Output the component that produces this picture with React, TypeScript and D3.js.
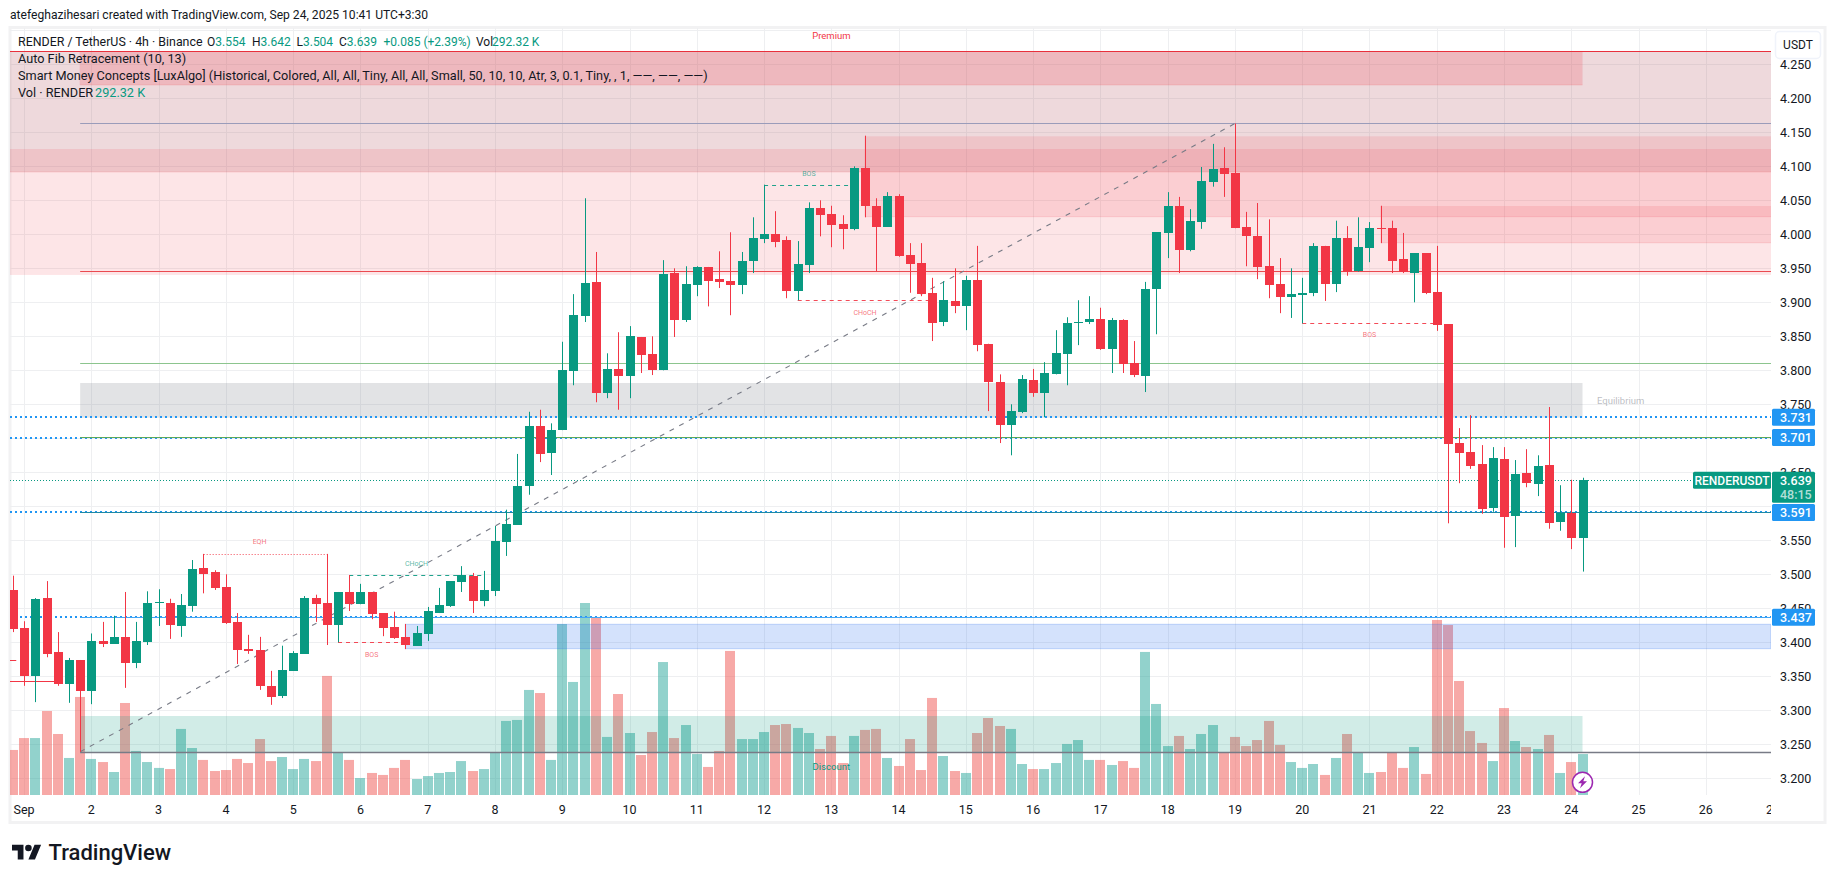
import React from 'react';
import * as d3 from 'd3';

// 4h candles, first entry is the bar cut off by the left edge of the pane
const opens = [3.477,3.421,3.350,3.465,3.386,3.339,3.374,3.328,3.402,3.398,3.408,3.370,3.400,3.458,3.458,3.424,3.453,3.509,3.503,3.481,3.430,3.390,3.389,3.336,3.321,3.358,3.383,3.465,3.458,3.425,3.474,3.456,3.474,3.443,3.422,3.408,3.395,3.412,3.443,3.453,3.489,3.498,3.461,3.475,3.548,3.573,3.630,3.718,3.678,3.712,3.799,3.880,3.930,3.767,3.802,3.792,3.849,3.824,3.800,3.943,3.874,3.925,3.952,3.934,3.931,3.925,3.961,3.993,4.000,3.992,3.917,3.955,4.039,4.030,4.015,4.008,4.097,4.042,4.011,4.056,3.969,3.958,3.914,3.871,3.902,3.894,3.933,3.839,3.783,3.720,3.739,3.786,3.767,3.794,3.824,3.870,3.871,3.875,3.831,3.874,3.811,3.792,3.920,4.002,4.042,3.977,4.018,4.077,4.097,4.090,4.011,3.997,3.953,3.927,3.908,3.911,3.914,3.983,3.927,3.995,3.946,3.980,4.009,4.009,3.964,3.943,3.972,3.915,3.868,3.693,3.680,3.662,3.597,3.670,3.586,3.649,3.633,3.661,3.577,3.590,3.553];
const highs = [3.498,3.431,3.465,3.490,3.415,3.377,3.374,3.413,3.430,3.439,3.474,3.430,3.475,3.478,3.464,3.471,3.521,3.530,3.506,3.500,3.443,3.411,3.408,3.358,3.395,3.387,3.468,3.470,3.530,3.474,3.499,3.486,3.474,3.443,3.445,3.427,3.424,3.452,3.480,3.490,3.512,3.502,3.505,3.571,3.595,3.677,3.739,3.742,3.722,3.842,3.912,4.053,3.974,3.825,3.856,3.865,3.849,3.850,3.962,3.950,3.953,3.953,3.952,3.975,4.003,3.974,4.025,4.073,4.034,3.997,3.990,4.047,4.050,4.042,4.028,4.100,4.145,4.053,4.062,4.059,3.987,3.987,3.936,3.931,3.950,3.939,3.983,3.839,3.794,3.750,3.793,3.802,3.812,3.859,3.878,3.903,3.909,3.892,3.877,3.875,3.843,3.930,4.003,4.062,4.055,4.037,4.099,4.133,4.128,4.163,4.033,4.046,4.022,3.965,3.950,3.936,3.987,3.983,4.020,4.012,4.025,4.018,4.042,4.020,4.002,3.972,3.972,3.983,3.868,3.715,3.734,3.690,3.687,3.687,3.668,3.684,3.675,3.746,3.631,3.639,3.642];
const lows = [3.415,3.336,3.312,3.378,3.336,3.311,3.239,3.309,3.393,3.398,3.333,3.362,3.396,3.424,3.405,3.408,3.445,3.472,3.477,3.427,3.368,3.383,3.330,3.308,3.318,3.358,3.383,3.430,3.396,3.400,3.446,3.456,3.434,3.409,3.405,3.390,3.395,3.402,3.443,3.452,3.474,3.443,3.453,3.468,3.527,3.573,3.617,3.665,3.646,3.712,3.778,3.871,3.753,3.759,3.742,3.759,3.796,3.793,3.800,3.849,3.871,3.909,3.894,3.921,3.881,3.912,3.943,3.987,3.981,3.906,3.903,3.943,3.997,3.981,3.978,4.006,4.025,3.946,4.011,3.967,3.914,3.909,3.843,3.865,3.884,3.859,3.828,3.740,3.693,3.675,3.737,3.761,3.731,3.794,3.778,3.837,3.868,3.830,3.796,3.796,3.790,3.768,3.853,3.965,3.943,3.975,4.008,4.070,4.055,4.009,3.953,3.934,3.906,3.884,3.877,3.869,3.909,3.902,3.915,3.939,3.945,3.959,3.987,3.943,3.943,3.900,3.912,3.858,3.575,3.634,3.655,3.589,3.592,3.539,3.540,3.628,3.615,3.567,3.564,3.537,3.504];
const closes = [3.420,3.350,3.464,3.383,3.339,3.374,3.328,3.402,3.398,3.408,3.370,3.402,3.458,3.459,3.425,3.455,3.508,3.500,3.480,3.428,3.389,3.387,3.336,3.320,3.359,3.384,3.465,3.456,3.425,3.474,3.456,3.474,3.442,3.421,3.406,3.396,3.414,3.446,3.455,3.490,3.499,3.461,3.477,3.549,3.574,3.630,3.718,3.677,3.712,3.800,3.881,3.928,3.767,3.802,3.792,3.850,3.822,3.800,3.942,3.874,3.927,3.952,3.931,3.930,3.925,3.961,3.995,4.000,3.989,3.917,3.956,4.039,4.028,4.014,4.008,4.097,4.042,4.011,4.056,3.968,3.956,3.912,3.870,3.903,3.894,3.933,3.837,3.783,3.720,3.740,3.787,3.767,3.796,3.825,3.870,3.871,3.875,3.831,3.874,3.809,3.793,3.920,4.003,4.042,3.977,4.020,4.078,4.096,4.089,4.009,3.997,3.952,3.925,3.908,3.912,3.914,3.983,3.927,3.995,3.945,3.981,4.009,4.008,3.961,3.945,3.972,3.914,3.867,3.692,3.678,3.659,3.596,3.671,3.584,3.648,3.634,3.659,3.575,3.590,3.553,3.639];
// volume in thousands of RENDER
const volumes = [321,406,406,599,435,264,699,257,235,164,656,314,235,193,185,471,335,250,171,178,257,228,399,242,271,185,257,242,849,300,250,121,157,143,193,250,114,135,157,164,242,171,185,300,528,535,749,727,250,1219,806,1369,1269,414,720,442,285,449,948,406,499,292,200,314,1027,399,399,449,499,506,478,442,328,421,228,421,464,471,264,207,399,178,692,278,171,157,442,549,492,471,221,185,185,228,364,392,250,250,214,242,193,1020,649,349,421,328,435,499,300,414,349,392,528,357,235,193,221,143,264,435,300,157,164,300,193,342,150,1248,1212,813,456,371,242,620,385,342,328,428,157,235,292];

// 3.700 and 3.600 sit completely behind the price tags in the original
const priceTicks = ['4.250','4.200','4.150','4.100','4.050','4.000','3.950','3.900','3.850','3.800','3.750','3.650','3.550','3.500','3.450','3.400','3.350','3.300','3.250','3.200'];
const gridPrices = [4.3, 4.25, 4.2, 4.15, 4.1, 4.05, 4.0, 3.95, 3.9, 3.85, 3.8, 3.75, 3.7, 3.65, 3.6, 3.55, 3.5, 3.45, 3.4, 3.35, 3.3, 3.25, 3.2];
const dayLabels = ['Sep','2','3','4','5','6','7','8','9','10','11','12','13','14','15','16','17','18','19','20','21','22','23','24','25','26','27'];
const barsPerDay = 6;

// Smart Money zones: [top price, bottom price, first bar or null for the left edge, last bar or null for the right edge, alpha]
const premiumZone = [4.2696, 3.9402];
const greyZoneTop = [4.2696, 4.0916];
const redZones: [number, number, number | null, number | null, number][] = [
  [4.1254, 4.0916, null, null, 0.13],
  [4.1441, 4.0259, 76, null, 0.13],
  [4.0416, 3.9876, 122, null, 0.13],
  [4.2696, 4.2196, 6, 140, 0.2],
];
const equilibriumZone = [3.7813, 3.7303];
const demandZone = [3.4265, 3.3906];
const discountZone = [3.2916, 3.2382];
const zoneStartBar = 6;
const zoneEndBar = 140;
const demandStartBar = 35;

// Auto fib levels: price and line colour
const fibPrices = [4.1637, 3.9453, 3.8107, 3.7019, 3.5921, 3.4372, 3.2386];
const fibColors = ['#9a9cba', '#ea4a50', '#8cc58e', '#5da85a', '#1f8aa5', '#42a5f5', '#787b86'];
const fibTrend = { fromBar: 6, fromPrice: 3.239, toBar: 109, toPrice: 4.163 };

const alertPrices = [3.731, 3.701, 3.591, 3.437];
const lastPrice = 3.639;

// Structure breaks
const structureLabels = ['EQH', 'CHoCH', 'BOS', 'BOS', 'CHoCH', 'BOS'];
const structurePrices = [3.530, 3.499, 3.400, 4.072, 3.903, 3.869];
const structureFrom = [17, 30, 29, 67, 70, 115];
const structureTo = [28, 42, 35, 75, 82, 127];
const structureLabelBars = [22, 36, 32, 71, 76, 121];
const structureLabelPrices = [3.5443, 3.5119, 3.3781, 4.086, 3.8816, 3.8493];
const structureUp = [false, true, false, true, false, false];
const oldSwings = [{ price: 3.343, toBar: 4 }, { price: 3.3735, toBar: 0.3 }];

const legendRows = [
  'Auto Fib Retracement (10, 13)',
  'Smart Money Concepts [LuxAlgo] (Historical, Colored, All, All, Tiny, All, All, Small, 50, 10, 10, Atr, 3, 0.1, Tiny, , 1, ——, ——, ——)',
];

const UP = '#089981';
const DOWN = '#f23645';
const FONT = 'Roboto, sans-serif';
const TEXT = '#131722';

const W = 1835;
const H = 883;
const plotLeft = 10;
const plotRight = 1771;
const plotTop = 28;
const plotBottom = 795;

const x = d3.scaleLinear().domain([1, 139]).range([24.1, 1571.3]);
const y = d3.scaleLinear().domain([4.2, 3.2]).range([98.3, 778.3]);
const vol = d3.scaleLinear().domain([0, 1369]).range([plotBottom, 603]);
const dayBar = (d: number) => 1 + d * barsPerDay;
const px = (v: number) => Math.round(v) + 0.5;

const Zone = ({ top, bottom, x0, x1, fill, alpha }: any) => (
  <rect x={x0} width={x1 - x0} y={y(top)} height={y(bottom) - y(top)} fill={fill} fillOpacity={alpha} />
);

const AxisTag = ({ price, color }: { price: number; color: string }) => (
  <g>
    <rect x={plotRight + 1} y={y(price) - 8.5} width={43} height={17} rx={1.5} fill={color} />
    <text x={1780} y={y(price) + 4.5} fontSize={12.5} fontWeight={500} fontFamily={FONT} fill="#fff">{price.toFixed(3)}</text>
  </g>
);

export default function App() {
  return (
    <svg width={W} height={H} viewBox={`0 0 ${W} ${H}`}
      style={{ position: 'absolute', left: 0, top: 0, display: 'block', background: '#fff' }}>
      <defs>
        <clipPath id="plot"><rect x={plotLeft} y={plotTop} width={plotRight - plotLeft} height={plotBottom - plotTop} /></clipPath>
        <clipPath id="timeAxis"><rect x={plotLeft} y={plotBottom} width={plotRight - plotLeft} height={26} /></clipPath>
      </defs>

      <text x={10} y={19} fontSize={12.1} fontFamily={FONT} fill={TEXT}>
        atefeghazihesari created with TradingView.com, Sep 24, 2025 10:41 UTC+3:30
      </text>

      <rect x={10} y={27.5} width={1815} height={795} fill="none" stroke="#f2f2f3" strokeWidth={3} />

      <g clipPath="url(#plot)">
        {gridPrices.map(p => (
          <line key={p} x1={plotLeft} x2={plotRight} y1={px(y(p))} y2={px(y(p))} stroke="#eeeff1" />
        ))}
        {dayLabels.map((_, d) => (
          <line key={d} x1={px(x(dayBar(d)))} x2={px(x(dayBar(d)))} y1={plotTop} y2={plotBottom} stroke="#eeeff1" />
        ))}

        {volumes.map((v, i) => (
          <rect key={i} x={Math.round(x(i) - 5)} width={10} y={vol(v)} height={plotBottom - vol(v)}
            fill={closes[i] >= opens[i] ? '#26a69a' : '#ef5350'} fillOpacity={0.5} />
        ))}

        <Zone top={premiumZone[0]} bottom={premiumZone[1]} x0={plotLeft} x1={plotRight} fill={DOWN} alpha={0.13} />
        <Zone top={greyZoneTop[0]} bottom={greyZoneTop[1]} x0={plotLeft} x1={plotRight} fill="#787b86" alpha={0.11} />
        {redZones.map(([top, bottom, from, to, alpha], i) => (
          <g key={i}>
            <Zone top={top} bottom={bottom} x0={from === null ? plotLeft : x(from) - 0.5}
              x1={to === null ? plotRight : x(to)} fill={DOWN} alpha={alpha} />
            <line x1={from === null ? plotLeft : x(from)} x2={to === null ? plotRight : x(to)}
              y1={y(bottom)} y2={y(bottom)} stroke={DOWN} strokeOpacity={0.14} />
          </g>
        ))}
        <Zone top={equilibriumZone[0]} bottom={equilibriumZone[1]} x0={x(zoneStartBar)} x1={x(zoneEndBar)} fill="#787b86" alpha={0.21} />
        <Zone top={discountZone[0]} bottom={discountZone[1]} x0={x(zoneStartBar)} x1={x(zoneEndBar)} fill={UP} alpha={0.19} />
        <rect x={x(demandStartBar)} width={plotRight - x(demandStartBar)} y={y(demandZone[0])}
          height={y(demandZone[1]) - y(demandZone[0])} fill="#2a6ef0" fillOpacity={0.2} stroke="#2a6ef0" strokeOpacity={0.25} />

        <line x1={plotLeft} x2={plotRight} y1={px(y(4.2696))} y2={px(y(4.2696))} stroke="#e8303c" strokeWidth={1} />

        {alertPrices.map(p => (
          <line key={p} x1={plotLeft} x2={plotRight} y1={Math.round(y(p))} y2={Math.round(y(p))}
            stroke="#2196f3" strokeWidth={2} strokeDasharray="2 3" />
        ))}
        {fibPrices.map((p, i) => (
          <line key={p} x1={x(zoneStartBar)} x2={plotRight} y1={px(y(p))} y2={px(y(p))}
            stroke={fibColors[i]} strokeWidth={i === 6 ? 1.5 : 1} />
        ))}
        <line x1={plotLeft} x2={1693} y1={px(y(lastPrice))} y2={px(y(lastPrice))} stroke={UP} strokeDasharray="1 2" />

        <line x1={x(fibTrend.fromBar)} y1={y(fibTrend.fromPrice)} x2={x(fibTrend.toBar)} y2={y(fibTrend.toPrice)}
          stroke="#787b86" strokeWidth={1.1} strokeDasharray="5 6" />

        {oldSwings.map(s => (
          <line key={s.price} x1={plotLeft} x2={x(s.toBar)} y1={px(y(s.price))} y2={px(y(s.price))} stroke={DOWN} />
        ))}

        {structureLabels.map((label, i) => {
          const c = structureUp[i] ? UP : DOWN;
          const isEq = label === 'EQH';
          return (
            <g key={i}>
              <line x1={x(structureFrom[i])} x2={x(structureTo[i])} y1={px(y(structurePrices[i]))} y2={px(y(structurePrices[i]))}
                stroke={c} strokeDasharray={isEq ? '1.5 1.5' : '4 4'} strokeOpacity={isEq ? 0.6 : 0.9} />
              <text x={x(structureLabelBars[i])} y={y(structureLabelPrices[i])} textAnchor="middle" fontSize={7} fontFamily={FONT}
                fill={c} fillOpacity={0.7}>{label}</text>
            </g>
          );
        })}

        {opens.map((o, i) => {
          const c = closes[i];
          const color = c >= o ? UP : DOWN;
          const cx = px(x(i));
          const top = Math.round(y(Math.max(o, c)));
          const bottom = Math.round(y(Math.min(o, c)));
          return (
            <g key={i}>
              <line x1={cx} x2={cx} y1={y(highs[i])} y2={y(lows[i])} stroke={color} />
              <rect x={cx - 4.5} width={9} y={top} height={Math.max(bottom - top, 1)} fill={color} />
            </g>
          );
        })}

        <text x={x(73)} y={38.5} textAnchor="middle" fontSize={9.5} fontFamily={FONT} fill={DOWN}>Premium</text>
        <text x={x(143.4)} y={404} textAnchor="middle" fontSize={9.5} fontFamily={FONT} fill="#787b86" fillOpacity={0.5}>Equilibrium</text>
        <text x={x(73)} y={770} textAnchor="middle" fontSize={9.5} fontFamily={FONT} fill={UP}>Discount</text>
      </g>

      {/* legend */}
      <g fontFamily={FONT} fontSize={12.7} fill={TEXT}>
        <text x={18} y={46} fontSize={12.4}>RENDER / TetherUS · 4h · Binance</text>
        <text x={207} y={46} fontSize={12}>O<tspan fill={UP}>3.554</tspan></text>
        <text x={252} y={46} fontSize={12}>H<tspan fill={UP}>3.642</tspan></text>
        <text x={296.5} y={46} fontSize={12}>L<tspan fill={UP}>3.504</tspan></text>
        <text x={339} y={46} fontSize={12}>C<tspan fill={UP}>3.639</tspan></text>
        <text x={383.5} y={46} fontSize={12} fill={UP}>+0.085 (+2.39%)</text>
        <text x={476} y={46} fontSize={12}>Vol</text>
        <text x={492} y={46} fontSize={12} fill={UP}>292.32 K</text>
        <text x={18} y={63}>{legendRows[0]}</text>
        <text x={18} y={80}>{legendRows[1]}</text>
        <text x={18} y={97}>Vol · RENDER</text>
        <text x={95} y={97} fill={UP}>292.32 K</text>
      </g>

      {/* price axis */}
      <g fontFamily={FONT} fontSize={12.5} fill={TEXT}>
        {priceTicks.map(t => <text key={t} x={1780} y={y(+t) + 4.5}>{t}</text>)}
      </g>
      <rect x={1775.5} y={31.5} width={45} height={27} rx={4} fill="#fff" stroke="#f0f3fa" strokeWidth={1.5} />
      <text x={1798} y={49} textAnchor="middle" fontSize={12} fontFamily={FONT} fill={TEXT}>USDT</text>

      {alertPrices.map(p => <AxisTag key={p} price={p} color="#2196f3" />)}

      <rect x={1693} y={y(lastPrice) - 8} width={78} height={17} rx={1.5} fill={UP} />
      <text x={1732} y={y(lastPrice) + 5} textAnchor="middle" fontSize={12} fontWeight={500} fontFamily={FONT} fill="#fff">RENDERUSDT</text>
      <rect x={plotRight + 1} y={y(lastPrice) - 8} width={43} height={31} rx={1.5} fill={UP} />
      <text x={1780} y={y(lastPrice) + 5} fontSize={12.5} fontWeight={500} fontFamily={FONT} fill="#fff">{lastPrice.toFixed(3)}</text>
      <text x={1780} y={y(lastPrice) + 19} fontSize={12.5} fontWeight={500} fontFamily={FONT} fill="#fff" fillOpacity={0.7}>48:15</text>

      {/* time axis */}
      <g clipPath="url(#timeAxis)" fontFamily={FONT} fontSize={12.5} fill={TEXT} textAnchor="middle">
        {dayLabels.map((d, i) => <text key={d} x={x(dayBar(i))} y={813.5}>{d}</text>)}
      </g>

      {/* flash icon on the last bar */}
      <g transform={`translate(${x(140)},782.3)`}>
        <circle r={10} fill="#fff" stroke="#9c27b0" strokeWidth={1.5} />
        <path d="M2.5 -6 L-4.5 1 H-0.8 L-2.5 6 L4.5 -1 H0.8 Z" fill="#9c27b0" />
      </g>

      {/* TradingView logo */}
      <g transform="translate(12,841.5) scale(0.82)" fill="#131722">
        <path d="M14 22H7V11H0V4h14v18zM28 22h-8l7.5-18h8L28 22z" />
        <circle cx={20} cy={8} r={4} />
      </g>
      <text x={48.5} y={860} fontSize={22} fontWeight={500} fontFamily={FONT} fill="#131722">TradingView</text>
    </svg>
  );
}
